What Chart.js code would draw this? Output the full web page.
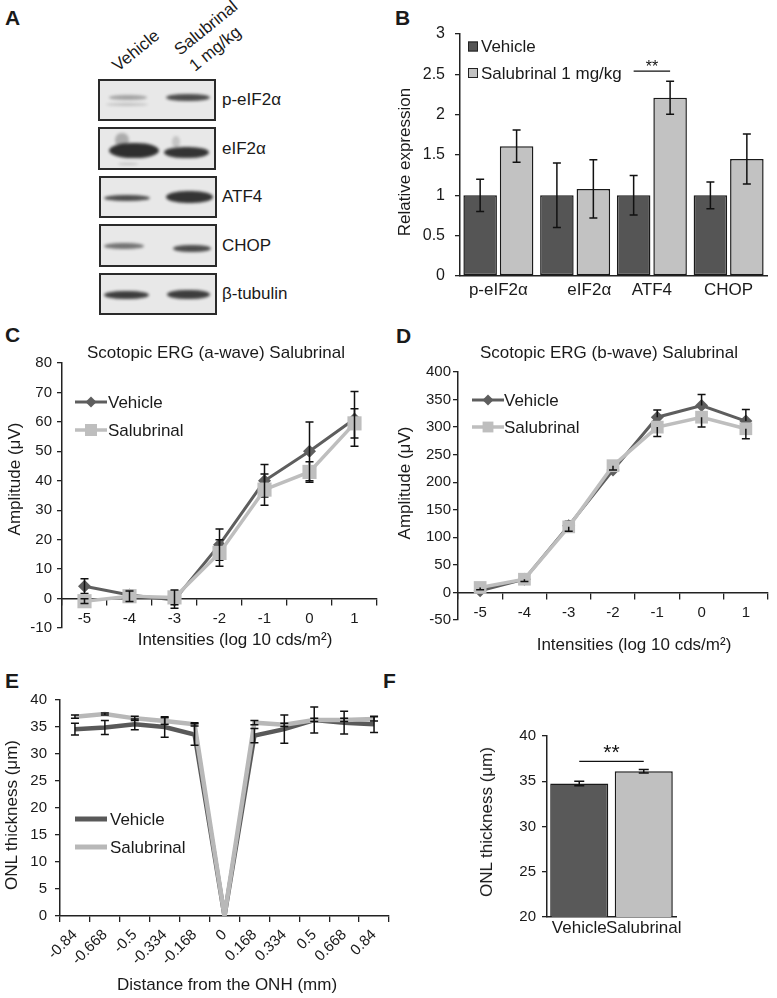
<!DOCTYPE html>
<html><head><meta charset="utf-8">
<script src="https://cdn.jsdelivr.net/npm/chart.js@4.4.1/dist/chart.umd.min.js"></script>
<style>
body{margin:0;width:777px;height:998px;position:relative;background:#fff;font-family:"Liberation Sans",Arial,sans-serif;color:#1a1a1a;overflow:hidden}
canvas{position:absolute}
.pl{position:absolute;font-weight:bold;font-size:21px;line-height:21px}
.ct{position:absolute;font-size:17px;white-space:nowrap;transform:translate(-50%,-50%)}
.vt{position:absolute;font-size:17px;white-space:nowrap;transform:translate(-50%,-50%) rotate(-90deg)}
.blot{position:absolute;box-sizing:border-box;border:2px solid #2a2a2a;background:#e8e8e8;overflow:hidden}
.band{position:absolute;background:#252525;border-radius:45%/50%;filter:blur(1.4px)}
.bl{position:absolute;font-size:17px;white-space:nowrap;transform:translateY(-50%)}
.rot{position:absolute;font-size:17px;line-height:17px;white-space:nowrap;transform-origin:0 14px;transform:rotate(-39deg)}
</style></head>
<body>
<!-- Panel letters -->
<div class="pl" style="left:5px;top:7px">A</div>
<div class="pl" style="left:395px;top:7px">B</div>
<div class="pl" style="left:5px;top:324px">C</div>
<div class="pl" style="left:396px;top:325px">D</div>
<div class="pl" style="left:5px;top:670px">E</div>
<div class="pl" style="left:383px;top:670px">F</div>

<!-- Panel A: western blot image approximation -->
<div class="rot" style="left:118px;top:58px">Vehicle</div>
<div class="rot" style="left:180px;top:42px">Salubrinal</div>
<div class="rot" style="left:195px;top:58px">1 mg/kg</div>

<div class="blot" style="left:98px;top:79px;width:118px;height:42px">
  <div class="band" style="left:9px;top:14px;width:38px;height:5px;opacity:.35"></div>
  <div class="band" style="left:6px;top:22px;width:42px;height:3px;opacity:.2"></div>
  <div class="band" style="left:66px;top:13px;width:44px;height:7px;opacity:.8"></div>
</div>
<div class="blot" style="left:98px;top:127px;width:118px;height:43px">
  <div class="band" style="left:15px;top:4px;width:14px;height:14px;opacity:.3"></div>
  <div class="band" style="left:72px;top:7px;width:8px;height:12px;opacity:.18"></div>
  <div class="band" style="left:9px;top:14px;width:50px;height:15px;opacity:.95"></div>
  <div class="band" style="left:64px;top:18px;width:45px;height:11px;opacity:.92"></div>
  <div class="band" style="left:18px;top:34px;width:20px;height:2px;opacity:.2"></div>
</div>
<div class="blot" style="left:99px;top:176px;width:118px;height:42px">
  <div class="band" style="left:3px;top:17px;width:46px;height:6px;opacity:.8"></div>
  <div class="band" style="left:65px;top:13px;width:47px;height:12px;opacity:.92"></div>
</div>
<div class="blot" style="left:99px;top:224px;width:118px;height:43px">
  <div class="band" style="left:3px;top:17px;width:40px;height:6px;opacity:.6"></div>
  <div class="band" style="left:72px;top:19px;width:38px;height:7px;opacity:.8"></div>
</div>
<div class="blot" style="left:99px;top:273px;width:118px;height:42px">
  <div class="band" style="left:3px;top:16px;width:45px;height:8px;opacity:.88"></div>
  <div class="band" style="left:66px;top:15px;width:43px;height:9px;opacity:.88"></div>
</div>
<div id="blotLabels"></div>

<!-- Canvases -->
<canvas id="cB" width="387" height="320" style="left:390px;top:0px"></canvas>
<canvas id="cC" width="390" height="330" style="left:0px;top:320px"></canvas>
<canvas id="cD" width="387" height="330" style="left:390px;top:320px"></canvas>
<canvas id="cE" width="400" height="348" style="left:0px;top:650px"></canvas>
<canvas id="cF" width="230" height="250" style="left:470px;top:700px"></canvas>

<!-- Titles -->
<div class="vt" style="left:405px;top:162px">Relative expression</div>
<div class="ct" style="left:216px;top:353px">Scotopic ERG (a-wave) Salubrinal</div>
<div class="ct" style="left:609px;top:353px">Scotopic ERG (b-wave) Salubrinal</div>
<div class="vt" style="left:15px;top:479px">Amplitude (μV)</div>
<div class="vt" style="left:405px;top:483px">Amplitude (μV)</div>
<div class="ct" style="left:235px;top:640px">Intensities (log 10 cds/m²)</div>
<div class="ct" style="left:634px;top:645px">Intensities (log 10 cds/m²)</div>
<div class="vt" style="left:12px;top:815px">ONL thickness (μm)</div>
<div class="ct" style="left:227px;top:985px">Distance from the ONH (mm)</div>
<div class="vt" style="left:487px;top:822px">ONL thickness (μm)</div>

<script>
// ---------- DATA ----------
const blotProteins = ['p-eIF2α', 'eIF2α', 'ATF4', 'CHOP', 'β-tubulin'];

const bCategories = ['p-eIF2α', '      eIF2α', 'ATF4', 'CHOP'];
const bVehicle = [1, 1, 1, 1];
const bVehicleErr = [0.2, 0.4, 0.245, 0.165];
const bSalubrinal = [1.61, 1.08, 2.21, 1.45];
const bSalubrinalErr = [0.2, 0.36, 0.205, 0.31];

const intensities = ['-5', '-4', '-3', '-2', '-1', '0', '1'];
const aWaveVehicle = [4.2, 1.2, -0.5, 18.3, 40, 50, 61];
const aWaveVehicleErr = [2.5, 1.6, 2.8, 5.3, 5.5, 10, 9.3];
const aWaveSalubrinal = [-0.9, 0.8, 0.4, 15.5, 37, 43, 59.5];
const aWaveSalubrinalErr = [0.8, 1.8, 2.5, 4.5, 5.3, 3.5, 5];

const bWaveVehicle = [3, 24, 121, 222, 318, 339, 311];
const bWaveVehicleErr = [4, 4, 8, 8, 13, 20, 21];
const bWaveSalubrinal = [9, 24, 119, 230, 300, 318, 297];
const bWaveSalubrinalErr = [4, 4, 8, 8, 17, 18, 18];

const distances = ['-0.84', '-0.668', '-0.5', '-0.334', '-0.168', '0', '0.168', '0.334', '0.5', '0.668', '0.84'];
const onlVehicle = [34.6, 34.9, 35.5, 35.0, 33.6, 0, 33.4, 34.6, 36.3, 35.8, 35.5];
const onlVehicleErr = [1.1, 1.3, 1.0, 1.9, 2.0, 0, 1.3, 2.6, 2.4, 2.1, 1.5];
const onlSalubrinal = [36.9, 37.4, 36.6, 36.1, 35.5, 0, 35.8, 35.4, 36.3, 36.3, 36.5];
const onlSalubrinalErr = [0.3, 0.2, 0.4, 0.6, 0.3, 0, 0.4, 0.3, 0.3, 0.3, 0.4];

const fCategories = ['Vehicle', 'Salubrinal'];
const fThickness = [34.75, 36.1];
const fThicknessErr = [0.25, 0.2];

// ---------- STYLE ----------
const FONT = '"Liberation Sans", Arial, sans-serif';
const INK = '#1a1a1a', AX = '#222';
Chart.defaults.font.family = FONT;
Chart.defaults.color = INK;
Chart.defaults.animation = false;
Chart.defaults.responsive = false;
Chart.defaults.plugins.legend.display = false;
Chart.defaults.plugins.tooltip.enabled = false;

// blot labels
const blotRowCenters = [100, 149, 197, 246, 294];
document.getElementById('blotLabels').innerHTML = blotProteins.map((p, i) =>
  `<div class="bl" style="left:222px;top:${blotRowCenters[i]}px">${p}</div>`).join('');

// ---------- PLUGINS ----------
function drawErr(chart, idx) {
  const ds = chart.data.datasets[idx];
  if (!ds.errors) return;
  const meta = chart.getDatasetMeta(idx);
  const y = chart.scales.y, ctx = chart.ctx;
  const cap = ds.errCap || 4, dir = ds.errDir || 'both';
  ctx.save();
  ctx.strokeStyle = '#111'; ctx.lineWidth = 1.5;
  meta.data.forEach((el, i) => {
    const v = ds.data[i], e = ds.errors[i];
    if (!e) return;
    const x = el.x, yc = y.getPixelForValue(v);
    const yt = dir === 'minus' ? yc : y.getPixelForValue(v + e);
    const yb = dir === 'plus' ? yc : y.getPixelForValue(v - e);
    ctx.beginPath();
    ctx.moveTo(x, yt); ctx.lineTo(x, yb);
    if (dir !== 'minus') { ctx.moveTo(x - cap, yt); ctx.lineTo(x + cap, yt); }
    if (dir !== 'plus') { ctx.moveTo(x - cap, yb); ctx.lineTo(x + cap, yb); }
    ctx.stroke();
  });
  ctx.restore();
}
const errorBars = {
  id: 'errorBars',
  afterDatasetDraw(chart, args, opts) { if (!opts.onTop) drawErr(chart, args.index); },
  afterDatasetsDraw(chart, args, opts) {
    if (opts.onTop) chart.data.datasets.forEach((d, i) => drawErr(chart, i));
  }
};
const insideLegend = {
  id: 'insideLegend',
  afterDraw(chart, args, o) {
    if (!o.kind) return;
    const ctx = chart.ctx;
    ctx.save();
    chart.data.datasets.forEach((ds, i) => {
      const y = o.y + i * o.dy;
      if (o.kind === 'box') {
        ctx.fillStyle = ds.backgroundColor; ctx.strokeStyle = '#222'; ctx.lineWidth = 1;
        ctx.fillRect(o.x, y - 5, 10, 10); ctx.strokeRect(o.x + 0.5, y - 4.5, 9, 9);
      } else {
        ctx.strokeStyle = ds.borderColor; ctx.lineWidth = o.lineWidth || ds.borderWidth;
        ctx.beginPath(); ctx.moveTo(o.x, y); ctx.lineTo(o.x + o.len, y); ctx.stroke();
        if (o.kind === 'lineMarker') {
          ctx.fillStyle = ds.pointBackgroundColor; ctx.strokeStyle = ds.pointBackgroundColor;
          Chart.helpers.drawPoint(ctx, {pointStyle: ds.pointStyle, radius: ds.pointRadius * 0.85, rotation: 0, borderWidth: 0}, o.x + o.len / 2, y);
        }
      }
      ctx.fillStyle = INK; ctx.font = `${o.size}px ${FONT}`;
      ctx.textBaseline = 'middle'; ctx.textAlign = 'left';
      ctx.fillText(ds.label, o.textX, y + 1);
    });
    ctx.restore();
  }
};
const significance = {
  id: 'significance',
  afterDraw(chart, args, o) {
    if (!o.items) return;
    const ctx = chart.ctx, y = chart.scales.y;
    ctx.save();
    o.items.forEach(it => {
      const x1 = chart.getDatasetMeta(it.ds1).data[it.i1].x;
      const x2 = chart.getDatasetMeta(it.ds2).data[it.i2].x;
      const yy = y.getPixelForValue(it.value);
      ctx.strokeStyle = '#111'; ctx.lineWidth = 1.3;
      ctx.beginPath(); ctx.moveTo(x1, yy); ctx.lineTo(x2, yy); ctx.stroke();
      ctx.fillStyle = '#111'; ctx.font = `${it.size}px ${FONT}`;
      ctx.textAlign = 'center'; ctx.textBaseline = 'alphabetic';
      ctx.fillText(it.text, (x1 + x2) / 2, yy + it.dy);
    });
    ctx.restore();
  }
};
Chart.register(errorBars, insideLegend, significance);

const plainNum = v => String(+Number(v).toFixed(3));
function yAxis(min, max, step, width, pad, fs) {
  return {
    min, max,
    ticks: {stepSize: step, padding: pad, font: {size: fs}, color: INK, callback: plainNum},
    grid: {drawOnChartArea: false, drawTicks: true, tickLength: 5, color: AX, lineWidth: 1.3},
    border: {color: AX, width: 1.5},
    afterFit(s) { s.width = width; }
  };
}
function catAxis(extra, height) {
  return Object.assign({
    type: 'category', offset: true,
    grid: {offset: true, drawOnChartArea: false, drawTicks: true, tickLength: 6, color: AX, lineWidth: 1.3},
    border: {color: AX, width: 1.5},
    ticks: {padding: 5, font: {size: 15}, color: INK, autoSkip: false, maxRotation: 0},
    afterFit(s) { s.height = height; }
  }, extra);
}
function plainCat(height, pad) {
  return {
    grid: {display: false, drawTicks: false}, border: {color: AX, width: 1.5},
    ticks: {padding: pad, font: {size: 17}, color: INK, autoSkip: false, maxRotation: 0, minRotation: 0},
    afterFit(s) { s.height = height; }
  };
}

// ---------- B ----------
new Chart(document.getElementById('cB'), {
  type: 'bar',
  data: {labels: bCategories, datasets: [
    {label: 'Vehicle', data: bVehicle, errors: bVehicleErr, backgroundColor: '#555555', borderColor: '#1a1a1a', borderWidth: 1.5, borderSkipped: false},
    {label: 'Salubrinal 1 mg/kg', data: bSalubrinal, errors: bSalubrinalErr, backgroundColor: '#c2c2c2', borderColor: '#1a1a1a', borderWidth: 1.5, borderSkipped: false}
  ]},
  options: {
    layout: {padding: {top: 34, right: 10, left: 0, bottom: 0}},
    datasets: {bar: {categoryPercentage: 0.95, barPercentage: 0.92}},
    plugins: {
      errorBars: {},
      insideLegend: {kind: 'box', x: 78, y: 46.5, dy: 26.5, textX: 91, size: 17},
      significance: {items: [{ds1: 0, i1: 2, ds2: 1, i2: 2, value: 2.54, text: '**', size: 16, dy: 1}]}
    },
    scales: {
      x: plainCat(44, 4),
      y: yAxis(0, 3, 0.5, 70, 10, 16)
    }
  }
});

// ---------- C ----------
new Chart(document.getElementById('cC'), {
  type: 'line',
  data: {labels: intensities, datasets: [
    {label: 'Vehicle', data: aWaveVehicle, errors: aWaveVehicleErr, order: 2, borderColor: '#5e5e5e', borderWidth: 3,
     pointStyle: 'rectRot', pointRadius: 6.5, pointBackgroundColor: '#5e5e5e', pointBorderWidth: 0, tension: 0},
    {label: 'Salubrinal', data: aWaveSalubrinal, errors: aWaveSalubrinalErr, order: 1, borderColor: '#bebebe', borderWidth: 3.5,
     pointStyle: 'rect', pointRadius: 10, pointBackgroundColor: '#bebebe', pointBorderWidth: 0, tension: 0}
  ]},
  options: {
    layout: {padding: {top: 43, right: 13, left: 0, bottom: 22}},
    plugins: {
      errorBars: {},
      insideLegend: {kind: 'lineMarker', x: 75, y: 82, dy: 28, len: 32, textX: 108, size: 17}
    },
    scales: {
      x: catAxis({position: {y: 0}}, 22),
      y: yAxis(-10, 80, 10, 62, 5, 15)
    }
  }
});

// ---------- D ----------
new Chart(document.getElementById('cD'), {
  type: 'line',
  data: {labels: intensities, datasets: [
    {label: 'Vehicle', data: bWaveVehicle, errors: bWaveVehicleErr, errDir: 'plus', order: 2, borderColor: '#5e5e5e', borderWidth: 3,
     pointStyle: 'rectRot', pointRadius: 6.5, pointBackgroundColor: '#5e5e5e', pointBorderWidth: 0, tension: 0},
    {label: 'Salubrinal', data: bWaveSalubrinal, errors: bWaveSalubrinalErr, errDir: 'minus', order: 1, borderColor: '#bebebe', borderWidth: 3.5,
     pointStyle: 'rect', pointRadius: 9, pointBackgroundColor: '#bebebe', pointBorderWidth: 0, tension: 0}
  ]},
  options: {
    layout: {padding: {top: 52, right: 5, left: 0, bottom: 30}},
    plugins: {
      errorBars: {},
      insideLegend: {kind: 'lineMarker', x: 82, y: 80, dy: 27, len: 32, textX: 114, size: 17}
    },
    scales: {
      x: catAxis({position: {y: 0}}, 30),
      y: yAxis(-50, 400, 50, 68, 2, 15)
    }
  }
});

// ---------- E ----------
new Chart(document.getElementById('cE'), {
  type: 'line',
  data: {labels: distances, datasets: [
    {label: 'Vehicle', data: onlVehicle, errors: onlVehicleErr, borderColor: '#595959', borderWidth: 4.5, pointRadius: 0, tension: 0, order: 2},
    {label: 'Salubrinal', data: onlSalubrinal, errors: onlSalubrinalErr, borderColor: '#b8b8b8', borderWidth: 4.5, pointRadius: 0, tension: 0, order: 1}
  ]},
  options: {
    layout: {padding: {top: 50, right: 11, left: 0, bottom: 0}},
    plugins: {
      errorBars: {onTop: true},
      insideLegend: {kind: 'line', x: 75, y: 169, dy: 28, len: 32, lineWidth: 5, textX: 110, size: 17}
    },
    scales: {
      x: catAxis({position: 'bottom', ticks: {padding: 4, font: {size: 15}, color: INK, autoSkip: false, minRotation: 45, maxRotation: 45}}, 82),
      y: yAxis(0, 40, 5, 60, 8, 15)
    }
  }
});

// ---------- F ----------
new Chart(document.getElementById('cF'), {
  type: 'bar',
  data: {labels: fCategories, datasets: [
    {label: 'ONL thickness', data: fThickness, errors: fThicknessErr, backgroundColor: ['#595959', '#c0c0c0'], borderColor: '#1a1a1a', borderWidth: 1.5, borderSkipped: false, errCap: 5}
  ]},
  options: {
    layout: {padding: {top: 36, right: 24, left: 0, bottom: 0}},
    datasets: {bar: {categoryPercentage: 1, barPercentage: 0.9}},
    plugins: {
      errorBars: {},
      significance: {items: [{ds1: 0, i1: 0, ds2: 0, i2: 1, value: 37.2, text: '**', size: 21, dy: -2}]}
    },
    scales: {
      x: plainCat(33, 1),
      y: yAxis(20, 40, 5, 77, 6, 15)
    }
  }
});
</script>
</body></html>
